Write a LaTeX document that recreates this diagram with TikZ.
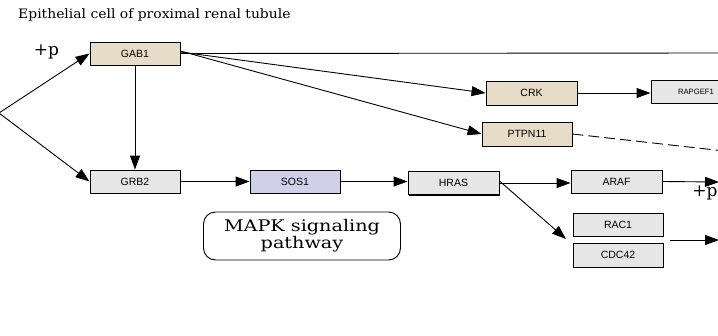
\documentclass[tikz,border=0pt]{standalone}
\usepackage{fontspec}
\setmainfont{Liberation Sans}
\newfontfamily\seriffont{DejaVu Serif}
\usetikzlibrary{arrows.meta,shadows}
\definecolor{beige}{RGB}{230,220,200}
\definecolor{greybox}{RGB}{230,230,230}
\definecolor{lavender}{RGB}{208,208,232}
\begin{document}
\begin{tikzpicture}[x=1pt,y=-1pt,
  gene/.style={draw=black,line width=0.9pt,minimum width=90pt,minimum height=23pt,
    inner sep=0pt,font=\fontsize{10.5}{11}\selectfont,
    drop shadow={shadow xshift=1.2pt,shadow yshift=-1.2pt,fill=black,opacity=1}},
  link/.style={line width=0.9pt,-{Triangle[length=14pt,width=10pt]}},
  plain/.style={line width=0.9pt},
  serlab/.style={font=\seriffont\fontsize{17}{17}\selectfont,inner sep=0pt}
]
\useasboundingbox (0,0) rectangle (718,335);
\clip (0,0) rectangle (718,335);
\fill[white] (0,0) rectangle (718,335);

\node[anchor=base west,inner sep=0pt,font=\seriffont\fontsize{13}{13}\selectfont] (title) at (18,18) {\scalebox{1.07}[1]{Epithelial cell of proximal renal tubule}};

\node[gene,fill=beige] (GAB1) at (135,53.5) {GAB1};
\node[gene,fill=beige,minimum width=91pt,minimum height=24pt] (CRK) at (531.5,93) {CRK};
\node[gene,fill=greybox,font=\fontsize{7.7}{8}\selectfont] (RAPGEF1) at (696,91.5) {RAPGEF1};
\node[gene,fill=beige,minimum height=24pt] (PTPN11) at (527,134) {PTPN11};
\node[gene,fill=greybox] (GRB2) at (135,181.5) {GRB2};
\node[gene,fill=lavender] (SOS1) at (295,181.5) {SOS1};
\node[gene,fill=greybox,minimum width=91pt] (HRAS) at (453.5,183) {HRAS};
\node[gene,fill=greybox,minimum width=91pt] (ARAF) at (616.5,181.5) {ARAF};
\node[gene,fill=greybox] (RAC1) at (618,224.5) {RAC1};
\node[gene,fill=greybox,minimum height=24pt] (CDC42) at (618,255) {CDC42};

\node[draw=black,line width=0.9pt,rounded corners=12pt,minimum width=197pt,minimum height=48pt,
  align=center,font=\seriffont\fontsize{16}{14}\selectfont,inner sep=0pt] (MAPK) at (302,236)
  {\scalebox{1.2}[1]{MAPK signaling}\\\scalebox{1.2}[1]{pathway}};

\node[serlab] (p1) at (46.5,52) {+p};
\node[serlab] (p2) at (705,193) {+p};

\coordinate (L) at (-1,113);
\coordinate (E1) at (720,53);
\coordinate (E2) at (720,150.5);
\coordinate (E3) at (719,182);
\coordinate (RC) at (566,239);
\coordinate (R1) at (670,240);
\coordinate (E4) at (719,240);

\draw[link] (L) -- (GAB1.west);
\draw[link] (L) -- (GRB2.west);
\draw[link] (GAB1.south) -- (GRB2.north);
\draw[plain] (GAB1.east) -- (E1);
\draw[link] ([yshift=1.5pt]GAB1.east) -- (CRK.west);
\draw[link] ([yshift=2.5pt]GAB1.east) -- (PTPN11.west);
\draw[link] (CRK.east) -- (CRK.east -| RAPGEF1.west);
\draw[plain,dash pattern=on 11pt off 5pt] (PTPN11.east) -- (E2);
\draw[link] (GRB2.east) -- (SOS1.west);
\draw[link] (SOS1.east) -- (SOS1.east -| HRAS.west);
\draw[link] (HRAS.east) -- (HRAS.east -| ARAF.west);
\draw[link] ([yshift=2pt]HRAS.east) -- (RC);
\draw[link] (ARAF.east) -- (E3);
\draw[link] (R1) -- (E4);
\end{tikzpicture}
\end{document}
